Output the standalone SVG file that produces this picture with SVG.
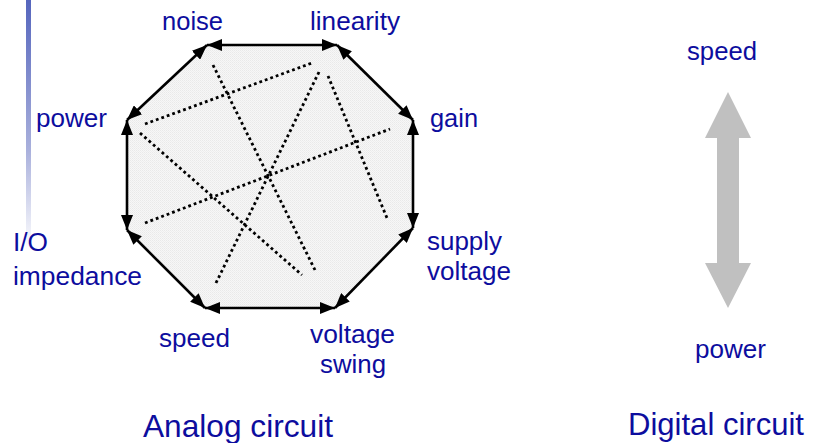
<svg xmlns="http://www.w3.org/2000/svg" width="814" height="443" viewBox="0 0 814 443">
<defs>
<linearGradient id="barGrad" x1="0" y1="0" x2="0" y2="1">
<stop offset="0" stop-color="#5565bd"/>
<stop offset="0.6" stop-color="#a9b0dc"/>
<stop offset="1" stop-color="#ffffff"/>
</linearGradient>
<pattern id="dither" width="2" height="2" patternUnits="userSpaceOnUse">
<rect width="2" height="2" fill="#f7f7f7"/>
<rect width="1" height="1" fill="#e9e9e9"/>
<rect x="1" y="1" width="1" height="1" fill="#eeeeee"/>
</pattern>
<marker id="ah" viewBox="0 0 15 12" refX="15" refY="6" markerWidth="15" markerHeight="12" markerUnits="userSpaceOnUse" orient="auto-start-reverse">
<path d="M0,0 L15,6 L0,12 Z" fill="#000"/>
</marker>
</defs>
<style>
.lbl{font-family:"Liberation Sans",Arial,sans-serif;font-size:25px;fill:#0d0d9e}
.ttl{font-family:"Liberation Sans",Arial,sans-serif;font-size:32px;fill:#0d0d9e}
.edge{stroke:#000;stroke-width:2.6;fill:none;marker-start:url(#ah);marker-end:url(#ah)}
.dot{stroke:#000;stroke-width:2.8;fill:none;stroke-dasharray:2.8 3}
</style>
<rect id="side-bar" x="26" y="0" width="5" height="250" fill="url(#barGrad)"/>
<g id="octagon">
<polygon points="207,45 337,45 413,120 413,228 335,308 205,308 127,230 127,120" fill="url(#dither)"/>
</g>
<g id="tradeoff-lines">
<line class="dot" x1="145" y1="124" x2="312" y2="63"/>
<line class="dot" x1="140" y1="133" x2="302" y2="275"/>
<line class="dot" x1="213" y1="65" x2="315" y2="270"/>
<line class="dot" x1="319" y1="72" x2="215" y2="285"/>
<line class="dot" x1="328" y1="76" x2="387" y2="218"/>
<line class="dot" x1="145" y1="223" x2="390" y2="129"/>
</g>
<g id="connectors">
<line class="edge" x1="207" y1="45" x2="337" y2="45"/>
<line class="edge" x1="337" y1="45" x2="413" y2="120"/>
<line class="edge" x1="413" y1="120" x2="413" y2="228"/>
<line class="edge" x1="413" y1="228" x2="335" y2="308"/>
<line class="edge" x1="335" y1="308" x2="205" y2="308"/>
<line class="edge" x1="205" y1="308" x2="127" y2="230"/>
<line class="edge" x1="127" y1="230" x2="127" y2="120"/>
<line class="edge" x1="127" y1="120" x2="207" y2="45"/>
</g>
<g id="node-noise"><text class="lbl" x="162" y="30" textLength="61" lengthAdjust="spacingAndGlyphs">noise</text></g>
<g id="node-linearity"><text class="lbl" x="310" y="30" textLength="90" lengthAdjust="spacingAndGlyphs">linearity</text></g>
<g id="node-gain"><text class="lbl" x="430" y="127" textLength="48" lengthAdjust="spacingAndGlyphs">gain</text></g>
<g id="node-supply-voltage"><text class="lbl" x="427" y="250" textLength="75" lengthAdjust="spacingAndGlyphs">supply</text><text class="lbl" x="427" y="280" textLength="84" lengthAdjust="spacingAndGlyphs">voltage</text></g>
<g id="node-voltage-swing"><text class="lbl" x="310" y="343" textLength="85" lengthAdjust="spacingAndGlyphs">voltage</text><text class="lbl" x="320" y="373" textLength="66" lengthAdjust="spacingAndGlyphs">swing</text></g>
<g id="node-speed"><text class="lbl" x="159" y="347" textLength="71" lengthAdjust="spacingAndGlyphs">speed</text></g>
<g id="node-io-impedance"><text class="lbl" x="13" y="251" textLength="35" lengthAdjust="spacingAndGlyphs">I/O</text><text class="lbl" x="13" y="285" textLength="129" lengthAdjust="spacingAndGlyphs">impedance</text></g>
<g id="node-power"><text class="lbl" x="36" y="127" textLength="71" lengthAdjust="spacingAndGlyphs">power</text></g>
<g id="analog-title"><text class="ttl" x="143" y="437" textLength="190" lengthAdjust="spacingAndGlyphs">Analog circuit</text></g>
<g id="digital-speed"><text class="lbl" x="687" y="60" textLength="70" lengthAdjust="spacingAndGlyphs">speed</text></g>
<g id="digital-arrow"><polygon points="728,92 751,138 739,138 739,263 751,263 728,308 705,263 717,263 717,138 705,138" fill="#c0c0c0"/></g>
<g id="digital-power"><text class="lbl" x="695" y="358" textLength="71" lengthAdjust="spacingAndGlyphs">power</text></g>
<g id="digital-title"><text class="ttl" x="628" y="435" textLength="176" lengthAdjust="spacingAndGlyphs">Digital circuit</text></g>
</svg>
